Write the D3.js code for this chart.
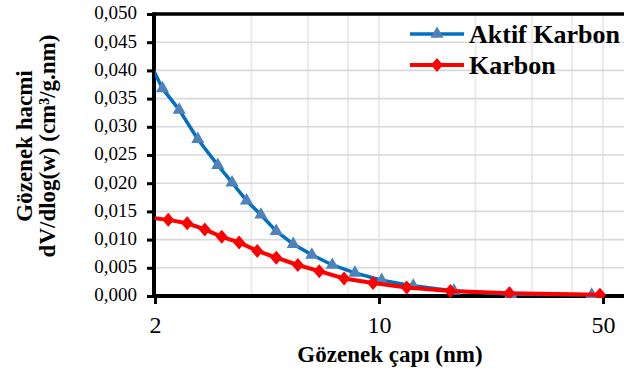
<!DOCTYPE html>
<html>
<head>
<meta charset="utf-8">
<script src="https://cdn.jsdelivr.net/npm/d3@7"></script>
<style>
  body { margin: 0; background: #fff; }
  svg { display: block; }
  text { font-family: "Liberation Serif", "Times New Roman", serif; fill: #000; }
</style>
</head>
<body>
<div id="chart"></div>
<script>
// pore diameter (nm) and dV/dlog(w) values
const aktifX = [1.93, 2.11, 2.38, 2.72, 3.14, 3.48, 3.86, 4.28, 4.78, 5.40, 6.17, 7.15, 8.41, 10.19, 12.79, 17.14, 25.76, 46.1];
const aktifY = [0.0413, 0.0368, 0.0330, 0.0278, 0.0232, 0.0201, 0.0169, 0.0144, 0.0115, 0.0092, 0.0073, 0.0055, 0.0041, 0.0028, 0.0018, 0.0009, 0.0003, 0.0002];
const karbonX = [1.93, 2.20, 2.52, 2.86, 3.23, 3.66, 4.17, 4.78, 5.58, 6.51, 7.78, 9.58, 12.2, 16.7, 25.5, 48.9];
const karbonY = [0.0139, 0.0135, 0.0129, 0.0118, 0.0105, 0.0095, 0.0080, 0.0068, 0.0055, 0.0044, 0.0031, 0.0023, 0.0015, 0.0009, 0.0005, 0.0002];

const seriesNames = ["Aktif Karbon", "Karbon"];
const xMajor = [2, 10, 50];
const xMinor = [4, 6, 8, 20, 30, 40];
const yTicks = d3.range(0, 0.0501, 0.005);

const width = 624, height = 376;
const plot = { left: 155, right: 640, top: 14, bottom: 296 };

const svg = d3.select('#chart').append('svg')
  .attr('width', width)
  .attr('height', height);

// log base 5 axis, like the original
const x = d3.scaleLog().base(5)
  .domain([2, 50])
  .range([plot.left, 603]);

const y = d3.scaleLinear()
  .domain([0, 0.05])
  .range([plot.bottom, plot.top]);

svg.append('defs').append('clipPath')
  .attr('id', 'clip')
  .append('rect')
  .attr('x', plot.left)
  .attr('y', plot.top - 2)
  .attr('width', plot.right - plot.left)
  .attr('height', plot.bottom - plot.top + 4);

// gridlines
svg.append('g')
  .selectAll('line')
  .data(xMinor.concat(xMajor.slice(1)))
  .enter()
  .append('line')
  .attr('x1', d => x(d)).attr('x2', d => x(d))
  .attr('y1', plot.top).attr('y2', plot.bottom)
  .attr('stroke', '#ececec')
  .attr('stroke-width', 2);

svg.append('g')
  .selectAll('line')
  .data(yTicks.slice(1))
  .enter()
  .append('line')
  .attr('x1', plot.left).attr('x2', plot.right)
  .attr('y1', d => y(d)).attr('y2', d => y(d))
  .attr('stroke', '#d9d9d9')
  .attr('stroke-width', 1.6);

// axes
const yAxis = svg.append('g')
  .attr('transform', `translate(${plot.left - 1},0)`)
  .call(d3.axisLeft(y).tickValues(yTicks).tickSize(7).tickPadding(10)
    .tickFormat(d => d3.format('.3f')(d).replace('.', ',')));
yAxis.select('.domain').remove();
yAxis.selectAll('line').attr('stroke', '#000').attr('stroke-width', 3);
yAxis.selectAll('text')
  .attr('font-size', '19px')
  .attr('font-family', '"Liberation Serif", serif')
  .attr('dy', '0.26em');

const xAxis = svg.append('g')
  .attr('transform', `translate(0,${plot.bottom + 1})`)
  .call(d3.axisBottom(x).tickValues(xMajor).tickSize(7).tickPadding(12)
    .tickFormat(d3.format('d')));
xAxis.select('.domain').remove();
xAxis.selectAll('line').attr('stroke', '#000').attr('stroke-width', 3);
xAxis.selectAll('text')
  .attr('font-size', '24px')
  .attr('font-family', '"Liberation Serif", serif');

// frame
svg.append('line')
  .attr('x1', plot.left - 1).attr('x2', plot.right)
  .attr('y1', plot.top).attr('y2', plot.top)
  .attr('stroke', '#000').attr('stroke-width', 3.5);
svg.append('line')
  .attr('x1', plot.left - 3).attr('x2', plot.right)
  .attr('y1', plot.bottom).attr('y2', plot.bottom)
  .attr('stroke', '#000').attr('stroke-width', 4);
svg.append('line')
  .attr('x1', plot.left - 1).attr('x2', plot.left - 1)
  .attr('y1', plot.top - 1.7).attr('y2', plot.bottom + 2)
  .attr('stroke', '#000').attr('stroke-width', 4);

// series
const line = d3.line()
  .x(d => x(d[0]))
  .y(d => y(d[1]));

const aktif = aktifX.map((v, i) => [v, aktifY[i]]);
const karbon = karbonX.map((v, i) => [v, karbonY[i]]);

const triangle = d3.symbol().type(d3.symbolTriangle).size(75);
const diamond = 'M0,-7L6,0L0,7L-6,0Z';

const series = svg.append('g').attr('clip-path', 'url(#clip)');

series.append('path')
  .datum(aktif)
  .attr('fill', 'none')
  .attr('stroke', '#0070c0')
  .attr('stroke-width', 3.5)
  .attr('d', line);

series.selectAll('.tri')
  .data(aktif.filter(d => d[0] >= 2))
  .enter()
  .append('path')
  .attr('class', 'tri')
  .attr('d', triangle)
  .attr('transform', d => `translate(${x(d[0])},${y(d[1])})`)
  .attr('fill', '#4f81bd');

series.append('path')
  .datum(karbon)
  .attr('fill', 'none')
  .attr('stroke', '#ff0000')
  .attr('stroke-width', 4)
  .attr('d', line);

series.selectAll('.dia')
  .data(karbon.filter(d => d[0] >= 2))
  .enter()
  .append('path')
  .attr('class', 'dia')
  .attr('d', diamond)
  .attr('transform', d => `translate(${x(d[0])},${y(d[1])})`)
  .attr('fill', '#ff0000');

// legend
const legend = svg.append('g');
[
  { name: seriesNames[0], color: '#0070c0', mark: '#4f81bd', y: 34, tri: true },
  { name: seriesNames[1], color: '#ff0000', mark: '#ff0000', y: 65, tri: false }
].forEach(s => {
  legend.append('line')
    .attr('x1', 410).attr('x2', 464)
    .attr('y1', s.y).attr('y2', s.y)
    .attr('stroke', s.color)
    .attr('stroke-width', s.tri ? 3.5 : 4);
  legend.append('path')
    .attr('d', s.tri ? triangle() : diamond)
    .attr('transform', `translate(437,${s.y})`)
    .attr('fill', s.mark);
  legend.append('text')
    .attr('x', 469).attr('y', s.y + 9)
    .attr('font-size', '26px')
    .attr('font-weight', 'bold')
    .text(s.name);
});

// axis titles
svg.append('text')
  .attr('x', 390).attr('y', 362)
  .attr('text-anchor', 'middle')
  .attr('font-size', '23px')
  .attr('font-weight', 'bold')
  .text('Gözenek çapı (nm)');

const yTitle = svg.append('text')
  .attr('transform', 'translate(0,146) rotate(-90)')
  .attr('text-anchor', 'middle')
  .attr('font-size', '23px')
  .attr('font-weight', 'bold');
yTitle.append('tspan').attr('x', 0).attr('y', 32).text('Gözenek hacmi');
yTitle.append('tspan').attr('x', 0).attr('y', 55).text('dV/dlog(w) (cm³/g.nm)');
</script>
</body>
</html>
